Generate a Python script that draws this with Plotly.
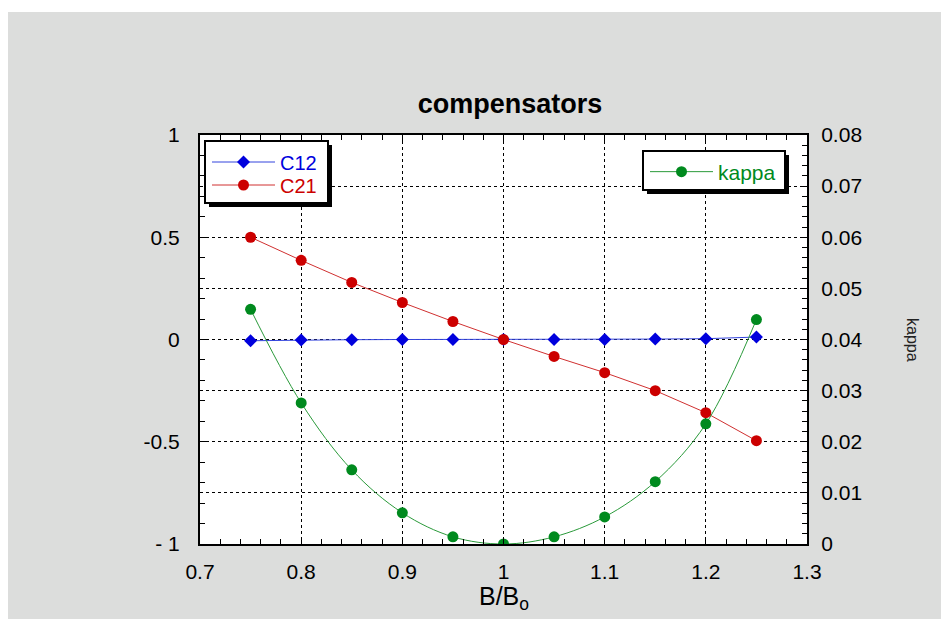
import plotly.graph_objects as go

# ---- data ----
x_vals = [0.75, 0.8, 0.85, 0.9, 0.95, 1.0, 1.05, 1.1, 1.15, 1.2, 1.25]
c12 = [-0.006, -0.002, -0.001, 0.0, 0.0, 0.0, 0.0, 0.0, 0.002, 0.004, 0.012]
c21 = [0.5, 0.387, 0.279, 0.181, 0.088, 0.0, -0.083, -0.162, -0.25, -0.358, -0.495]
kappa = [0.0459, 0.0276, 0.0145, 0.0061, 0.0014, 0.0, 0.0014, 0.0053, 0.0122, 0.0235, 0.0439]

x_tickvals = [0.7, 0.8, 0.9, 1.0, 1.1, 1.2, 1.3]
x_ticktext = ["0.7", "0.8", "0.9", "1", "1.1", "1.2", "1.3"]
y_tickvals = [-1, -0.5, 0, 0.5, 1]
y_ticktext = ["- 1", "-0.5", "0", "0.5", "1"]
y2_tickvals = [0, 0.01, 0.02, 0.03, 0.04, 0.05, 0.06, 0.07, 0.08]
y2_ticktext = ["0", "0.01", "0.02", "0.03", "0.04", "0.05", "0.06", "0.07", "0.08"]

FONT = "Liberation Sans, Arial, sans-serif"
GRAY = "#dcdddc"
BLUE = "#0000dd"
RED = "#cc0000"
GREEN = "#008a1e"

OFF = 8  # page body margin
W, H = 949, 619
L, T = 192, 127
PW, PH = 607, 409
R = W - L - PW
B = H - T - PH


def px(page_x):
    return (page_x - OFF - L) / PW


def py(page_y):
    return (T + PH - (page_y - OFF)) / PH


fig = go.Figure()
fig.add_trace(go.Scatter(
    x=x_vals, y=c12, mode="lines+markers", name="C12",
    line=dict(color="#3344dd", width=1),
    marker=dict(symbol="diamond", size=10, color=BLUE),
    legend="legend"))
fig.add_trace(go.Scatter(
    x=x_vals, y=c21, mode="lines+markers", name="C21",
    line=dict(color="#d03030", width=1),
    marker=dict(symbol="circle", size=11, color=RED),
    legend="legend3"))
fig.add_trace(go.Scatter(
    x=x_vals, y=kappa, mode="lines+markers", yaxis="y2", name="kappa",
    line=dict(color="#2a9a3a", width=1, shape="spline", smoothing=1.0),
    marker=dict(symbol="circle", size=11, color=GREEN),
    legend="legend2"))

axis_common = dict(
    ticks="inside", tickcolor="black", tickwidth=1, ticklen=7,
    showline=True, linecolor="black", linewidth=2,
    tickfont=dict(family=FONT, size=21, color="black"),
)

# legend boxes (page px) from the reference
LG1 = (205, 141, 328, 203)
LG2 = (643, 151, 785, 190)
SH = 4
ITEMW = 63
TEXT_OFF = ITEMW + 10


def leg(text_x, center_y, color, size):
    return dict(x=px(text_x - TEXT_OFF), y=py(center_y), xanchor="left", yanchor="middle",
                bgcolor="rgba(0,0,0,0)", borderwidth=0,
                font=dict(family=FONT, size=size, color=color), itemwidth=ITEMW)


def box_shapes(bx):
    x0, y0, x1, y1 = bx
    return [
        dict(type="rect", xref="paper", yref="paper",
             x0=px(x0 + SH), x1=px(x1 + SH), y0=py(y1 + SH), y1=py(y0 + SH),
             fillcolor="black", line_width=0, layer="above"),
        dict(type="rect", xref="paper", yref="paper",
             x0=px(x0), x1=px(x1), y0=py(y1), y1=py(y0),
             fillcolor="white", line=dict(color="black", width=2), layer="above"),
    ]


fig.update_layout(
    width=W, height=H,
    margin=dict(l=L, r=R, t=T, b=B),
    paper_bgcolor=GRAY, plot_bgcolor="white",
    showlegend=True,
    title=dict(text="compensators", x=(510 - OFF) / W, xref="container", xanchor="center",
               y=1 - (104 - OFF) / H, yref="container", yanchor="middle",
               font=dict(family=FONT, size=27, color="black", weight="bold")),
    xaxis=dict(
        range=[0.7, 1.3], tickvals=x_tickvals, ticktext=x_ticktext,
        mirror="ticks", showgrid=True, gridcolor="black", gridwidth=1, griddash="dot",
        zeroline=False,
        minor=dict(dtick=0.02, ticks="inside", ticklen=5, tickcolor="black", showgrid=False),
        ticklabelstandoff=8,
        **axis_common),
    yaxis=dict(
        range=[-1, 1], tickvals=y_tickvals, ticktext=y_ticktext,
        showgrid=False, zeroline=False, mirror=False,
        minor=dict(dtick=0.1, ticks="inside", ticklen=5, tickcolor="black", showgrid=False),
        ticklabelstandoff=14,
        **axis_common),
    yaxis2=dict(
        range=[0, 0.08], tickvals=y2_tickvals, ticktext=y2_ticktext,
        overlaying="y", side="right",
        showgrid=True, gridcolor="black", gridwidth=1, griddash="dot", zeroline=False,
        minor=dict(dtick=0.002, ticks="inside", ticklen=5, tickcolor="black", showgrid=False),
        ticklabelstandoff=8,
        **axis_common),
    legend=leg(280, 162, BLUE, 20),
    legend3=leg(280, 185, RED, 20),
    legend2=leg(718, 172, GREEN, 21),
    annotations=[
        dict(text="kappa", x=px(913), y=py(340), xref="paper", yref="paper",
             xanchor="center", yanchor="middle", showarrow=False, textangle=90,
             font=dict(family=FONT, size=16, color="#222222")),
        dict(text="B/B<sub>o</sub>", x=px(504), y=py(581), xref="paper", yref="paper",
             xanchor="center", yanchor="top", showarrow=False, borderpad=0,
             font=dict(family=FONT, size=25, color="black")),
    ],
    shapes=[
        # thin white strip at the top of the page above the gray panel
        dict(type="rect", xref="paper", yref="paper", x0=px(0), x1=px(W + 20),
             y0=py(12), y1=py(0), fillcolor="white", line_width=0, layer="below"),
    ] + box_shapes(LG1) + box_shapes(LG2),
)

fig.write_html("out.html")
